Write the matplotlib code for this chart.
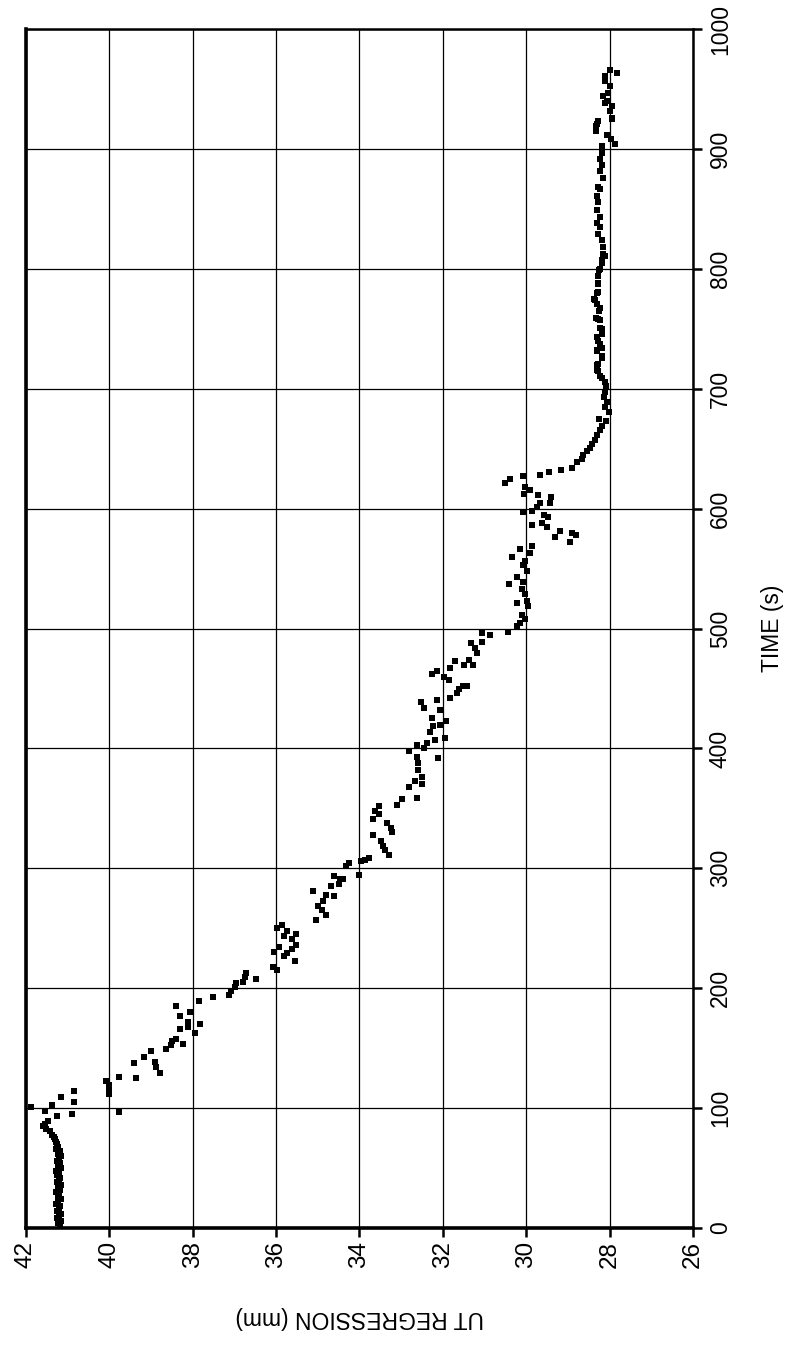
import numpy as np
import matplotlib.pyplot as plt

# UT regression readings against time
time_s = [
    2, 4, 6, 8, 10, 12, 14, 16, 18, 20, 22, 24, 26, 28, 30, 32, 34, 36, 38, 40,
    42, 44, 46, 48, 50, 52, 54, 56, 58, 60, 62, 64, 66, 68, 70, 72, 74, 76, 78,
    81, 83, 85, 87, 89, 93.6, 95, 97, 98, 101, 103, 105, 109, 112, 114, 116, 119,
    123, 125, 126, 129, 134, 138, 138.5, 143, 148, 149, 152.5, 153.6, 156, 158,
    163, 166, 168, 170, 172, 177, 180, 185, 189,
    192.8, 194, 197.8, 201, 204, 205, 208, 209, 213, 215, 218, 222.5, 227, 229,
    230, 233, 234, 236, 241, 243.6, 245, 248, 250, 253, 257, 261, 265.6, 269,
    272.8, 277, 277.5, 281, 285, 287, 291, 291.4, 293.6, 294.7, 301.7, 304.7,
    305.8, 306.7, 309, 311, 315, 319, 322.5, 327.5, 330, 334, 338, 341, 345,
    348, 352, 353,
    358, 359, 368, 370.6, 372.5, 376, 381.7, 387.8, 392, 392.8, 397.8, 400.3,
    402.5, 404.4, 407, 408.6, 414, 419, 419.5, 423, 425, 431.7, 434, 438.6, 440,
    442, 446.4, 449.7, 452, 452.5, 457, 460, 462, 465, 467, 469.4, 470, 472.8,
    474, 479.4, 484, 487.8, 488.6, 494.7, 496.4, 497.5, 502, 504.7, 508, 511,
    518.6, 521, 523,
    529, 533, 537, 538.6, 542.8, 548, 553, 556.7, 560, 562.8, 566, 569, 572,
    576, 578, 580, 581.7, 584.4, 586.7, 587.8, 593, 594.7, 597.5, 598.3, 601.7,
    604.4, 604.8, 609.4, 611.7, 612, 615.6, 618.3, 621, 624.4, 627, 628, 630.8,
    632.2, 633.6, 638.6, 641.4, 645, 647.8, 650.3, 653.9, 657.2, 661.4, 665.6,
    669.2, 673.3, 674.7, 681, 684.4, 688.6, 692.8, 697, 702.5,
    706, 709, 711, 715, 716, 720, 721, 726, 727.5, 731.7, 732, 734.4, 737, 740,
    743, 745.6, 750, 751, 757, 758, 759.4, 765, 767, 771, 774, 774.7, 780, 781,
    787, 788.6, 794, 799, 800, 805, 807, 811, 812, 818, 824, 829, 835, 838.6,
    843, 849, 856, 861, 867, 868, 876, 882, 887, 891.7, 896.9, 902.6, 904, 908,
    912, 915, 919, 920.6, 923, 924.7, 926, 931.7, 935.8, 938, 940, 944, 947,
    952.5, 957, 961, 963.6, 966,
]
ut_mm = [
    41.19, 41.24, 41.17, 41.26, 41.20, 41.16, 41.25, 41.21, 41.18, 41.27, 41.22,
    41.17, 41.24, 41.20, 41.27, 41.18, 41.23, 41.16, 41.26, 41.21, 41.18, 41.25,
    41.20, 41.27, 41.17, 41.23, 41.19, 41.26, 41.21, 41.17, 41.24, 41.19, 41.27,
    41.22, 41.26, 41.28, 41.30, 41.33, 41.38,
    41.42, 41.52, 41.58, 41.55, 41.48, 41.26, 40.89, 39.77, 41.54, 41.89, 41.38,
    40.85, 41.17, 40.00, 40.85, 40.02, 40.00, 40.08, 39.35, 39.76, 38.79, 38.88,
    39.41, 38.91, 39.17, 38.99, 38.63, 38.51, 38.24, 38.50, 38.39, 37.95, 38.31,
    38.11, 37.83, 38.12, 38.31, 38.07, 38.40, 37.84,
    37.52, 37.13, 37.07, 36.99, 36.96, 36.80, 36.47, 36.75, 36.73, 35.97, 36.07,
    35.54, 35.81, 35.73, 36.05, 35.63, 35.93, 35.53, 35.63, 35.81, 35.53, 35.75,
    35.97, 35.87, 35.05, 34.81, 34.91, 34.99, 34.87, 34.60, 34.81, 35.11, 34.69,
    34.49, 34.47, 34.39, 34.61, 34.01, 34.33, 34.25, 33.97, 33.87, 33.77, 33.29,
    33.39, 33.43, 33.49, 33.67, 33.21, 33.25, 33.33, 33.67, 33.53, 33.63, 33.53,
    33.10,
    32.99, 32.63, 32.81, 32.49, 32.67, 32.49, 32.59, 32.59, 32.11, 32.61, 32.82,
    32.46, 32.63, 32.37, 32.19, 31.95, 32.31, 32.23, 32.07, 31.93, 32.27, 32.06,
    32.45, 32.53, 32.14, 31.82, 31.65, 31.61, 31.42, 31.51, 31.86, 31.98, 32.27,
    32.14, 31.83, 31.27, 31.49, 31.71, 31.37, 31.17, 31.23, 31.33, 31.07, 30.87,
    31.07, 30.43, 30.23, 30.15, 30.03, 30.11, 29.95, 30.23, 29.99,
    30.03, 30.11, 30.41, 30.07, 30.21, 29.99, 30.07, 30.03, 30.33, 29.91, 30.15,
    29.85, 28.94, 29.30, 28.81, 28.91, 29.18, 29.51, 29.86, 29.63, 29.47, 29.58,
    30.07, 29.85, 29.75, 29.66, 29.43, 29.41, 29.71, 30.05, 29.91, 30.03, 30.51,
    30.38, 30.07, 29.67, 29.45, 29.17, 28.89, 28.78, 28.67, 28.63, 28.54, 28.46,
    28.41, 28.35, 28.29, 28.22, 28.17, 28.09, 28.25, 28.01, 28.12, 28.07, 28.14,
    28.12, 28.09,
    28.12, 28.19, 28.23, 28.27, 28.30, 28.29, 28.28, 28.19, 28.19, 28.31, 28.30,
    28.19, 28.23, 28.27, 28.30, 28.19, 28.19, 28.23, 28.23, 28.27, 28.33, 28.25,
    28.23, 28.30, 28.35, 28.38, 28.30, 28.27, 28.28, 28.27, 28.28, 28.25, 28.23,
    28.19, 28.19, 28.12, 28.16, 28.15, 28.19, 28.27, 28.23, 28.31, 28.23, 28.30,
    28.28, 28.30, 28.23, 28.28, 28.16, 28.23, 28.19, 28.23, 28.17, 28.17, 27.87,
    27.97, 28.07, 28.33, 28.33, 28.31, 28.28, 27.95, 27.95, 27.99, 27.95, 28.11,
    28.07, 28.16, 28.03, 27.99, 28.10, 28.12, 27.83, 27.99,
]

ut_ticks = np.arange(26, 43, 2)
time_ticks = np.arange(0, 1001, 100)

plt.rcParams["font.family"] = ["Liberation Sans", "DejaVu Sans"]

fig = plt.figure(figsize=(7.87, 13.51), dpi=100)
ax = fig.add_axes([0.033, 0.091, 0.8475, 0.8875])

ax.plot(ut_mm, time_s, "s", color="black", markersize=4.8, markeredgewidth=0)

ax.set_xlim(42, 26)
ax.set_ylim(0, 1000)
ax.set_xticks(ut_ticks)
ax.set_yticks(time_ticks)
ax.set_xticklabels([str(v) for v in ut_ticks], rotation=90, va="top", ha="center", fontsize=17.5)
ax.set_yticklabels([str(v) for v in time_ticks], rotation=90, va="center", ha="left", fontsize=16.5)
ax.yaxis.tick_right()
ax.yaxis.set_label_position("right")
ax.tick_params(axis="both", direction="out", length=6.5, width=1.8, colors="black")
ax.tick_params(axis="x", pad=3)
ax.tick_params(axis="y", pad=5)

ax.grid(True, color="black", linewidth=0.9)
ax.set_axisbelow(True)
for side in ["left", "bottom"]:
    ax.spines[side].set_linewidth(2.6)
for side in ["top", "right"]:
    ax.spines[side].set_linewidth(1.8)

ax.set_xlabel("UT REGRESSION (mm)", rotation=180, fontsize=16.5, va="center", ha="center")
ax.xaxis.set_label_coords(0.5, -0.075)
ax.set_ylabel("TIME (s)", rotation=90, fontsize=16.5, va="center", ha="center")
ax.yaxis.set_label_coords(1.12, 0.5)

fig.savefig("out.png", dpi=100)
